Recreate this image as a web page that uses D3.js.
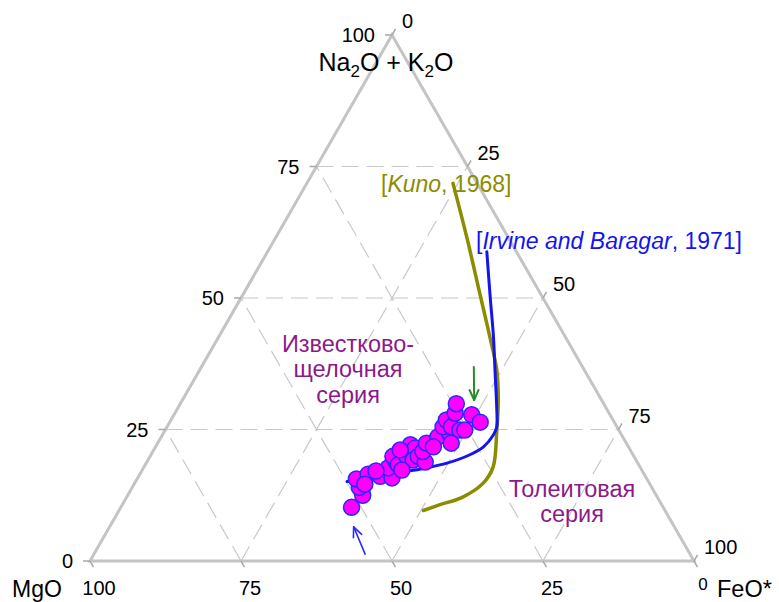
<!DOCTYPE html>
<html>
<head>
<meta charset="utf-8">
<script src="https://cdn.jsdelivr.net/npm/d3@7"></script>
<style>
  body { margin: 0; background: #fff; }
  svg { display: block; }
  text { font-family: Arial, "Liberation Sans", sans-serif; }
</style>
</head>
<body>
<svg id="chart" width="779" height="602"></svg>
<script>
// AFM diagram: A = Na2O + K2O, F = FeO*, M = MgO (wt%, normalised to 100)

// Rock samples
const sampleA = [10.2, 12.5, 14.0, 15.6, 16.5, 16.1, 15.8, 17.7, 18.8, 19.9, 18.3, 19.9,
                 22.1, 21.5, 19.2, 19.9, 18.8, 20.8, 22.4, 23.6, 24.3, 25.5, 26.8, 25.5,
                 22.4, 24.9, 24.9, 28.1, 29.9, 27.8, 26.4, 17.1, 17.3, 14.6, 21.7, 21.1];
const sampleF = [38.2, 38.9, 37.6, 36.3, 37.8, 40.0, 42.1, 40.5, 41.3, 40.2, 41.9, 42.5,
                 42.0, 43.1, 43.9, 44.4, 46.1, 44.7, 44.5, 45.8, 47.4, 45.7, 45.6, 47.1,
                 48.6, 48.8, 49.6, 46.4, 45.7, 49.3, 51.4, 38.8, 43.0, 38.2, 46.0, 40.8];
const sampleM = [51.6, 48.6, 48.4, 48.1, 45.7, 43.9, 42.1, 41.8, 39.9, 39.9, 39.8, 37.6,
                 35.9, 35.4, 36.9, 35.7, 35.1, 34.5, 33.1, 30.6, 28.3, 28.8, 27.6, 27.4,
                 29.0, 26.3, 25.5, 25.5, 24.4, 22.9, 22.2, 44.1, 39.7, 47.2, 32.3, 38.1];

// Calc-alkaline / tholeiitic boundary after Kuno (1968)
const kunoA = [71.8, 61.7, 50.3, 42.6, 36.3, 30.6, 24.9, 17.9, 14.8, 12.2, 10.7, 9.6];
const kunoF = [24.2, 31.5, 39.5, 44.9, 49.2, 52.3, 54.9, 57.8, 57.7, 55.7, 52.6, 50.4];

// Boundary after Irvine and Baragar (1971)
const irvineA = [58.8, 50.3, 42.6, 36.3, 28.7, 25.5, 24.0, 21.7, 20.2, 18.6, 17.6, 16.7, 15.7, 15.1];
const irvineF = [36.3, 41.1, 45.5, 48.9, 53.0, 54.6, 54.8, 54.3, 52.8, 49.8, 46.4, 42.4, 38.5, 35.0];

// Trend arrows: [A, F] of tail and head
const greenArrow = [[36.9, 45.1], [30.6, 48.3]];
const blueArrow  = [[1.3, 44.9], [6.5, 40.4]];

const tickValues = [0, 25, 50, 75, 100];
const gridValues = [25, 50, 75];
const leftTickLabels = ["0", "25", "50", "75", "100"];     // Na2O + K2O
const rightTickLabels = ["0", "25", "50", "75", "100"];    // FeO*
const bottomTickLabels = ["100", "75", "50", "25", "0"];   // MgO

const svg = d3.select("#chart");

// Triangle frame: M bottom-left, F bottom-right, A top
const xs = d3.scaleLinear().domain([0, 100]).range([90, 694]);
const ys = d3.scaleLinear().domain([0, 100]).range([561, 35]);
const proj = (a, f) => [xs(f + a / 2), ys(a)];

const gridColor = "#c8c8c8";
const frameColor = "#c4c4c4";

// Grid (dashed)
const gGrid = svg.append("g")
  .attr("stroke", gridColor).attr("stroke-width", 1.2)
  .attr("stroke-dasharray", "17,8").attr("fill", "none");
const gridSegs = [];
gridValues.forEach(v => {
  gridSegs.push([proj(v, 0), proj(v, 100 - v)]);        // constant A
  gridSegs.push([proj(0, v), proj(100 - v, v)]);        // constant F
  gridSegs.push([proj(0, 100 - v), proj(100 - v, 0)]);  // constant M
});
gGrid.selectAll("line").data(gridSegs).join("line")
  .attr("x1", d => d[0][0]).attr("y1", d => d[0][1])
  .attr("x2", d => d[1][0]).attr("y2", d => d[1][1]);

// Frame
svg.append("path")
  .attr("d", d3.line()([proj(100, 0), proj(0, 0), proj(0, 100)]) + "Z")
  .attr("fill", "none").attr("stroke", frameColor).attr("stroke-width", 3)
  .attr("stroke-linejoin", "miter");

// Ticks and tick labels
const tl = 7;
const c60 = Math.cos(Math.PI / 3), s60 = Math.sin(Math.PI / 3);
const gTicks = svg.append("g").attr("stroke", "#a8a8a8").attr("stroke-width", 1.5);
const gLab = svg.append("g").attr("font-size", 20).attr("fill", "#000");

tickValues.forEach((v, i) => {
  // left edge: A
  const [lx, ly] = proj(v, 0);
  gTicks.append("line").attr("x1", lx).attr("y1", ly).attr("x2", lx - tl).attr("y2", ly);
  gLab.append("text").attr("x", lx - 17).attr("y", ly).attr("dy", "0.35em")
    .attr("text-anchor", "end").text(leftTickLabels[i]);

  // right edge: F
  const [rx, ry] = proj(100 - v, v);
  gTicks.append("line").attr("x1", rx).attr("y1", ry)
    .attr("x2", rx + tl * c60).attr("y2", ry - tl * s60);
  gLab.append("text").attr("x", rx + 10).attr("y", ry - 14).attr("dy", "0.35em")
    .attr("text-anchor", "start").text(rightTickLabels[i]);

  // bottom edge: M
  const [bx, by] = proj(0, v);
  gTicks.append("line").attr("x1", bx).attr("y1", by)
    .attr("x2", bx + tl * c60).attr("y2", by + tl * s60);
  const last = i === tickValues.length - 1;
  gLab.append("text").attr("x", bx + (last ? 9 : 9)).attr("y", by + (last ? 29 : 34))
    .attr("font-size", last ? 17 : null)
    .attr("text-anchor", "middle").text(bottomTickLabels[i]);
});

// Axis titles
const title = svg.append("text").attr("x", 386).attr("y", 71)
  .attr("text-anchor", "middle").attr("font-size", 25).attr("fill", "#000");
title.append("tspan").text("Na");
title.append("tspan").attr("font-size", 17).attr("dy", 6).text("2");
title.append("tspan").attr("dy", -6).text("O + K");
title.append("tspan").attr("font-size", 17).attr("dy", 6).text("2");
title.append("tspan").attr("dy", -6).text("O");

svg.append("text").attr("x", 12).attr("y", 597).attr("font-size", 23).text("MgO");
svg.append("text").attr("x", 717).attr("y", 597).attr("font-size", 23.5).text("FeO*");

// Boundary curves
const curve = d3.line().curve(d3.curveCatmullRom.alpha(0.5));
svg.append("path")
  .attr("d", curve(kunoA.map((a, i) => proj(a, kunoF[i]))))
  .attr("fill", "none").attr("stroke", "#8c8c00").attr("stroke-width", 3.5)
  .attr("stroke-linecap", "round");
svg.append("path")
  .attr("d", curve(irvineA.map((a, i) => proj(a, irvineF[i]))))
  .attr("fill", "none").attr("stroke", "#1414f0").attr("stroke-width", 3)
  .attr("stroke-linecap", "round");

// Samples
svg.append("g").selectAll("circle")
  .data(sampleA.map((a, i) => ({ a, f: sampleF[i], m: sampleM[i] })))
  .join("circle")
  .attr("cx", d => proj(d.a, d.f)[0])
  .attr("cy", d => proj(d.a, d.f)[1])
  .attr("r", 8)
  .attr("fill", "#ff00ff").attr("stroke", "#2828ff").attr("stroke-width", 1.5);

// Arrows
function arrow(pts, color, width) {
  const [t, h] = pts.map(p => proj(p[0], p[1]));
  const ang = Math.atan2(h[1] - t[1], h[0] - t[0]);
  const hl = 11, ha = 0.42;
  const g = svg.append("g").attr("stroke", color).attr("stroke-width", width)
    .attr("fill", "none").attr("stroke-linecap", "round").attr("stroke-linejoin", "round");
  g.append("line").attr("x1", t[0]).attr("y1", t[1]).attr("x2", h[0]).attr("y2", h[1]);
  g.append("path").attr("d", d3.line()([
    [h[0] - hl * Math.cos(ang - ha), h[1] - hl * Math.sin(ang - ha)],
    h,
    [h[0] - hl * Math.cos(ang + ha), h[1] - hl * Math.sin(ang + ha)]
  ]));
}
arrow(greenArrow, "#2a8a2a", 2);
arrow(blueArrow, "#2a2aff", 1.6);

// Annotations
const kuno = svg.append("text").attr("x", 381).attr("y", 192)
  .attr("font-size", 23).attr("fill", "#8c8c00");
kuno.append("tspan").text("[");
kuno.append("tspan").attr("font-style", "italic").text("Kuno");
kuno.append("tspan").text(", 1968]");

const irv = svg.append("text").attr("x", 476).attr("y", 249)
  .attr("font-size", 23).attr("fill", "#1414f0");
irv.append("tspan").text("[");
irv.append("tspan").attr("font-style", "italic").text("Irvine and Baragar");
irv.append("tspan").text(", 1971]");

const purple = "#8b1a8b";
const ca = svg.append("g").attr("font-size", 23.5).attr("fill", purple).attr("text-anchor", "middle");
[["Известково-", 352], ["щелочная", 377], ["серия", 403]].forEach(([t, y]) =>
  ca.append("text").attr("x", 348).attr("y", y).text(t));
[["Толеитовая", 497], ["серия", 522]].forEach(([t, y]) =>
  ca.append("text").attr("x", 572).attr("y", y).text(t));
</script>
</body>
</html>
